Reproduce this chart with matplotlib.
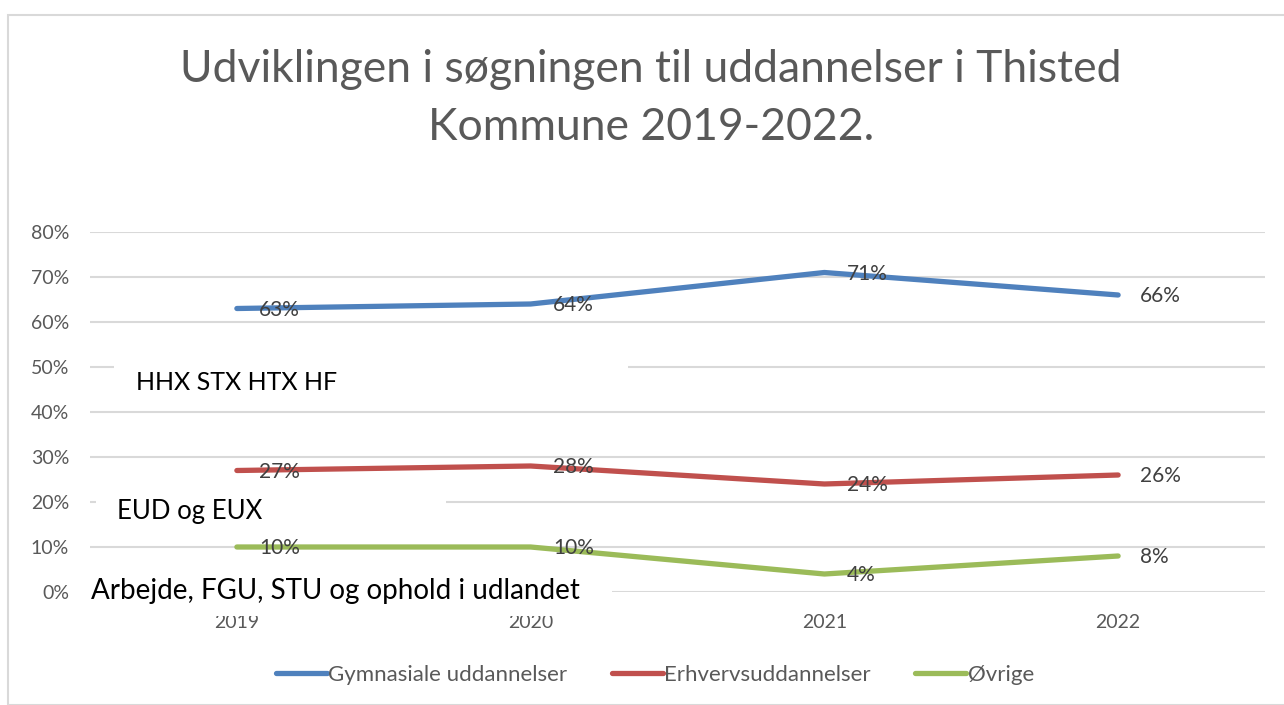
import matplotlib.pyplot as plt
import matplotlib.patches as patches
from matplotlib.ticker import PercentFormatter

# data
years = ["2019", "2020", "2021", "2022"]
gymnasiale = [0.63, 0.64, 0.71, 0.66]
erhverv = [0.27, 0.28, 0.24, 0.26]
ovrige = [0.10, 0.10, 0.04, 0.08]
series_names = ["Gymnasiale uddannelser", "Erhvervsuddannelser", "Øvrige"]
yticks = [0.0, 0.1, 0.2, 0.3, 0.4, 0.5, 0.6, 0.7, 0.8]
notes = ["HHX STX HTX HF", "EUD og EUX", "Arbejde, FGU, STU og ophold i udlandet"]

colors = ["#4F81BD", "#C0504D", "#9BBB59"]
grey = "#595959"

plt.rcParams["font.family"] = ["Lato", "DejaVu Sans"]

W, H = 1284, 705
fig = plt.figure(figsize=(W / 100, H / 100), dpi=100)


def fx(px):
    return px / W


def fy(py):
    return 1 - py / H


# outer chart border
fig.patches.append(patches.Rectangle((fx(8), 0), 1.2, fy(15), transform=fig.transFigure,
                                     fill=False, edgecolor="#D9D9D9", linewidth=1.5))

ax = fig.add_axes([fx(90), fy(592), (1265 - 90) / W, (592 - 232) / H])
x = list(range(len(years)))

for vals, name, c in zip([gymnasiale, erhverv, ovrige], series_names, colors):
    ax.plot(x, vals, color=c, lw=3.8, solid_capstyle="round", solid_joinstyle="round",
            label=name, zorder=3)
    for xi, v in zip(x, vals):
        ax.annotate(f"{v * 100:.0f}%", (xi, v), xytext=(16, -1), textcoords="offset points",
                    ha="left", va="center", fontsize=15, color="#404040", zorder=4)

ax.set_xlim(-0.5, 3.5)
ax.set_ylim(0, 0.8)
ax.set_yticks(yticks)
ax.yaxis.set_major_formatter(PercentFormatter(1.0, decimals=0))
ax.set_xticks(x)
ax.set_xticklabels(years)
ax.grid(axis="y", color="#D9D9D9", lw=1.5)
ax.set_axisbelow(True)
for s in ax.spines.values():
    s.set_visible(False)
ax.tick_params(axis="both", length=0, labelsize=14, labelcolor=grey)
ax.tick_params(axis="y", pad=15)
ax.tick_params(axis="x", pad=16)

fig.text(fx(651), fy(70), "Udviklingen i søgningen til uddannelser i Thisted",
         ha="center", va="center", fontsize=32, color=grey)
fig.text(fx(651), fy(127), "Kommune 2019-2022.",
         ha="center", va="center", fontsize=32, color=grey)

# white text boxes drawn over the plot (they hide parts of the grid)
boxes = [(114, 360, 628, 405), (96, 482, 446, 530), (85, 570, 612, 616)]
text_pos = [(136, 383), (117, 511), (91, 591)]
sizes = [18, 18.5, 20]
for (x0, y0, x1, y1), (tx, ty), txt, fs in zip(boxes, text_pos, notes, sizes):
    fig.patches.append(patches.Rectangle((fx(x0), fy(y1)), (x1 - x0) / W, (y1 - y0) / H,
                                         transform=fig.transFigure, facecolor="white",
                                         edgecolor="none", zorder=5))
    fig.text(fx(tx), fy(ty), txt, ha="left", va="center", fontsize=fs, color="black",
             zorder=6)

fig.legend(loc="center", bbox_to_anchor=(fx(655), fy(675)), ncol=3, frameon=False,
           fontsize=16, labelcolor=grey, handlelength=2.3, handletextpad=0.05,
           columnspacing=2.0)

fig.savefig("out.png", dpi=100)
